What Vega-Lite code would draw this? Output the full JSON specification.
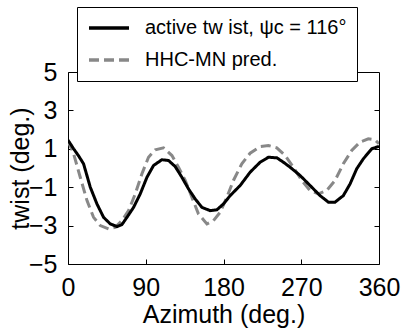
{
  "$schema": "https://vega.github.io/schema/vega-lite/v6.json",
  "autosize": {"type": "none"},
  "padding": {"left": 68, "top": 72, "right": 24, "bottom": 68},
  "width": 311,
  "height": 192,
  "background": "white",
  "config": {
    "view": {"stroke": "black", "strokeWidth": 1},
    "font": "Liberation Sans",
    "axis": {"grid": false, "domain": false, "tickColor": "black", "tickSize": -5, "labelColor": "black", "titleColor": "black", "labelFont": "Liberation Sans", "titleFont": "Liberation Sans", "titleFontWeight": "normal"}
  },
  "datasets": {
    "curves": [
      {"az": 0, "val": 1.45, "series": "active tw ist, ψc = 116°"},
      {"az": 6.5, "val": 1.0, "series": "active tw ist, ψc = 116°"},
      {"az": 12, "val": 0.65, "series": "active tw ist, ψc = 116°"},
      {"az": 18, "val": 0.22, "series": "active tw ist, ψc = 116°"},
      {"az": 25.8, "val": -1.0, "series": "active tw ist, ψc = 116°"},
      {"az": 33.5, "val": -1.87, "series": "active tw ist, ψc = 116°"},
      {"az": 41.2, "val": -2.57, "series": "active tw ist, ψc = 116°"},
      {"az": 48.9, "val": -2.91, "series": "active tw ist, ψc = 116°"},
      {"az": 56.7, "val": -3.05, "series": "active tw ist, ψc = 116°"},
      {"az": 62.4, "val": -2.95, "series": "active tw ist, ψc = 116°"},
      {"az": 68.2, "val": -2.57, "series": "active tw ist, ψc = 116°"},
      {"az": 75.9, "val": -2.05, "series": "active tw ist, ψc = 116°"},
      {"az": 83.6, "val": -1.35, "series": "active tw ist, ψc = 116°"},
      {"az": 91.4, "val": -0.48, "series": "active tw ist, ψc = 116°"},
      {"az": 99, "val": 0.13, "series": "active tw ist, ψc = 116°"},
      {"az": 108.7, "val": 0.43, "series": "active tw ist, ψc = 116°"},
      {"az": 116.4, "val": 0.39, "series": "active tw ist, ψc = 116°"},
      {"az": 124, "val": 0.08, "series": "active tw ist, ψc = 116°"},
      {"az": 131.8, "val": -0.48, "series": "active tw ist, ψc = 116°"},
      {"az": 139.5, "val": -1.09, "series": "active tw ist, ψc = 116°"},
      {"az": 147.2, "val": -1.61, "series": "active tw ist, ψc = 116°"},
      {"az": 155, "val": -2.05, "series": "active tw ist, ψc = 116°"},
      {"az": 164.6, "val": -2.22, "series": "active tw ist, ψc = 116°"},
      {"az": 172.3, "val": -2.18, "series": "active tw ist, ψc = 116°"},
      {"az": 180, "val": -1.87, "series": "active tw ist, ψc = 116°"},
      {"az": 187.7, "val": -1.44, "series": "active tw ist, ψc = 116°"},
      {"az": 199.3, "val": -0.91, "series": "active tw ist, ψc = 116°"},
      {"az": 210.8, "val": -0.22, "series": "active tw ist, ψc = 116°"},
      {"az": 222.4, "val": 0.3, "series": "active tw ist, ψc = 116°"},
      {"az": 232, "val": 0.56, "series": "active tw ist, ψc = 116°"},
      {"az": 241.7, "val": 0.53, "series": "active tw ist, ψc = 116°"},
      {"az": 249.4, "val": 0.3, "series": "active tw ist, ψc = 116°"},
      {"az": 257.1, "val": 0.04, "series": "active tw ist, ψc = 116°"},
      {"az": 268.7, "val": -0.39, "series": "active tw ist, ψc = 116°"},
      {"az": 280.2, "val": -0.91, "series": "active tw ist, ψc = 116°"},
      {"az": 291.8, "val": -1.44, "series": "active tw ist, ψc = 116°"},
      {"az": 301.4, "val": -1.78, "series": "active tw ist, ψc = 116°"},
      {"az": 309.1, "val": -1.78, "series": "active tw ist, ψc = 116°"},
      {"az": 318.7, "val": -1.44, "series": "active tw ist, ψc = 116°"},
      {"az": 326.5, "val": -0.83, "series": "active tw ist, ψc = 116°"},
      {"az": 334.2, "val": -0.04, "series": "active tw ist, ψc = 116°"},
      {"az": 341.9, "val": 0.48, "series": "active tw ist, ψc = 116°"},
      {"az": 351.6, "val": 1.0, "series": "active tw ist, ψc = 116°"},
      {"az": 360, "val": 1.13, "series": "active tw ist, ψc = 116°"},
      {"az": 0, "val": 1.4, "series": "HHC-MN pred."},
      {"az": 6.5, "val": 0.74, "series": "HHC-MN pred."},
      {"az": 14.2, "val": -0.48, "series": "HHC-MN pred."},
      {"az": 22, "val": -1.7, "series": "HHC-MN pred."},
      {"az": 29.6, "val": -2.57, "series": "HHC-MN pred."},
      {"az": 37.4, "val": -3.0, "series": "HHC-MN pred."},
      {"az": 47, "val": -3.17, "series": "HHC-MN pred."},
      {"az": 54.7, "val": -3.09, "series": "HHC-MN pred."},
      {"az": 62.4, "val": -2.74, "series": "HHC-MN pred."},
      {"az": 70.1, "val": -2.22, "series": "HHC-MN pred."},
      {"az": 77.8, "val": -1.35, "series": "HHC-MN pred."},
      {"az": 85.6, "val": -0.3, "series": "HHC-MN pred."},
      {"az": 93.2, "val": 0.56, "series": "HHC-MN pred."},
      {"az": 101, "val": 0.95, "series": "HHC-MN pred."},
      {"az": 110.6, "val": 1.05, "series": "HHC-MN pred."},
      {"az": 120.3, "val": 0.65, "series": "HHC-MN pred."},
      {"az": 127.9, "val": 0.04, "series": "HHC-MN pred."},
      {"az": 135.7, "val": -0.65, "series": "HHC-MN pred."},
      {"az": 143.4, "val": -1.52, "series": "HHC-MN pred."},
      {"az": 151, "val": -2.39, "series": "HHC-MN pred."},
      {"az": 160.8, "val": -2.91, "series": "HHC-MN pred."},
      {"az": 168.4, "val": -2.74, "series": "HHC-MN pred."},
      {"az": 176.1, "val": -2.31, "series": "HHC-MN pred."},
      {"az": 183.9, "val": -1.52, "series": "HHC-MN pred."},
      {"az": 191.5, "val": -0.65, "series": "HHC-MN pred."},
      {"az": 201.2, "val": 0.22, "series": "HHC-MN pred."},
      {"az": 210.8, "val": 0.77, "series": "HHC-MN pred."},
      {"az": 222.4, "val": 1.12, "series": "HHC-MN pred."},
      {"az": 232, "val": 1.17, "series": "HHC-MN pred."},
      {"az": 241.7, "val": 1.05, "series": "HHC-MN pred."},
      {"az": 251.3, "val": 0.65, "series": "HHC-MN pred."},
      {"az": 260.9, "val": 0.04, "series": "HHC-MN pred."},
      {"az": 270.6, "val": -0.65, "series": "HHC-MN pred."},
      {"az": 280.2, "val": -1.17, "series": "HHC-MN pred."},
      {"az": 289.8, "val": -1.35, "series": "HHC-MN pred."},
      {"az": 299.5, "val": -1.17, "series": "HHC-MN pred."},
      {"az": 309.1, "val": -0.65, "series": "HHC-MN pred."},
      {"az": 318.7, "val": 0.22, "series": "HHC-MN pred."},
      {"az": 328.4, "val": 0.91, "series": "HHC-MN pred."},
      {"az": 338, "val": 1.35, "series": "HHC-MN pred."},
      {"az": 347.6, "val": 1.52, "series": "HHC-MN pred."},
      {"az": 355.3, "val": 1.47, "series": "HHC-MN pred."},
      {"az": 360, "val": 1.26, "series": "HHC-MN pred."}
    ]
  },
  "data": {"name": "curves"},
  "resolve": {"axis": {"x": "independent", "y": "independent"}},
  "layer": [
    {
      "transform": [{"filter": "datum.series === 'HHC-MN pred.'"}],
      "mark": {"type": "line", "strokeWidth": 3, "clip": true},
      "encoding": {
        "x": {"field": "az", "type": "quantitative", "scale": {"domain": [0, 360], "nice": false}, "axis": {"orient": "bottom", "values": [0, 90, 180, 270, 360], "title": "Azimuth (deg.)", "labelFontSize": 25, "titleFontSize": 25, "labelPadding": 16, "titlePadding": 2, "labelFlush": false}},
        "y": {"field": "val", "type": "quantitative", "scale": {"domain": [-5, 5], "nice": false}, "axis": {"orient": "left", "values": [-5, -3, -1, 1, 3, 5], "title": "twist (deg.)", "labelFontSize": 25, "titleFontSize": 25, "labelPadding": 16, "titlePadding": -5}},
        "color": {"field": "series", "type": "nominal", "scale": {"domain": ["active tw ist, ψc = 116°", "HHC-MN pred."], "range": ["black", "#888888"]},
          "legend": {"orient": "none", "legendX": 9, "legendY": -65, "title": null, "fillColor": "white", "strokeColor": "black", "padding": 10, "labelFontSize": 20, "labelLimit": 400, "labelFont": "Liberation Sans", "labelColor": "black", "symbolType": "stroke", "symbolSize": 1600, "symbolStrokeWidth": 3.5, "labelOffset": 14, "clipHeight": 22, "rowPadding": 10}},
        "strokeDash": {"field": "series", "type": "nominal", "scale": {"domain": ["active tw ist, ψc = 116°", "HHC-MN pred."], "range": [[1, 0], [10, 5]]}, "legend": null}
      }
    },
    {
      "transform": [{"filter": "datum.series !== 'HHC-MN pred.'"}],
      "mark": {"type": "line", "strokeWidth": 3, "clip": true},
      "encoding": {
        "x": {"field": "az", "type": "quantitative", "axis": null},
        "y": {"field": "val", "type": "quantitative", "axis": null},
        "color": {"field": "series", "type": "nominal"},
        "strokeDash": {"field": "series", "type": "nominal", "legend": null}
      }
    },
    {
      "mark": {"type": "line", "strokeOpacity": 0},
      "encoding": {
        "x": {"field": "az", "type": "quantitative", "axis": {"orient": "top", "values": [90, 180, 270], "labels": false, "title": null}},
        "y": {"field": "val", "type": "quantitative", "axis": {"orient": "right", "values": [-3, -1, 1, 3], "labels": false, "title": null}},
        "detail": {"field": "series"}
      }
    }
  ]
}
